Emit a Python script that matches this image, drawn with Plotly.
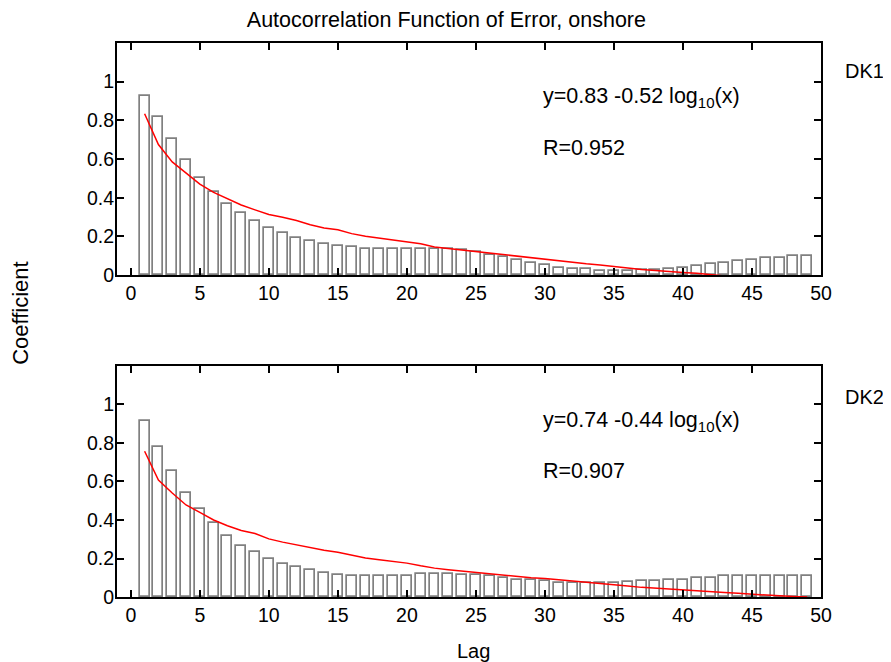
import plotly.graph_objects as go

lags = list(range(1, 50))

dk1_acf = [0.927, 0.815, 0.701, 0.593, 0.503, 0.427, 0.369, 0.320, 0.279, 0.244,
           0.219, 0.193, 0.178, 0.162, 0.152, 0.144, 0.135, 0.135, 0.135, 0.135,
           0.137, 0.137, 0.133, 0.128, 0.120, 0.103, 0.094, 0.077, 0.060, 0.051,
           0.038, 0.029, 0.029, 0.021, 0.021, 0.021, 0.026, 0.026, 0.029, 0.038,
           0.046, 0.055, 0.060, 0.072, 0.080, 0.089, 0.089, 0.097, 0.097]

dk2_acf = [0.915, 0.781, 0.656, 0.540, 0.458, 0.383, 0.315, 0.267, 0.232, 0.200,
           0.174, 0.157, 0.140, 0.125, 0.116, 0.108, 0.108, 0.108, 0.108, 0.108,
           0.118, 0.118, 0.118, 0.116, 0.116, 0.108, 0.099, 0.091, 0.091, 0.082,
           0.074, 0.074, 0.074, 0.074, 0.074, 0.077, 0.082, 0.082, 0.091, 0.091,
           0.099, 0.099, 0.108, 0.108, 0.108, 0.108, 0.108, 0.108, 0.108]

dk1_fit_lags = list(range(1, 44))
dk1_fit = [0.834, 0.675, 0.585, 0.525, 0.470, 0.427, 0.393, 0.362, 0.337, 0.313,
           0.299, 0.282, 0.260, 0.243, 0.234, 0.214, 0.200, 0.191, 0.179, 0.171,
           0.162, 0.145, 0.137, 0.130, 0.120, 0.113, 0.106, 0.099, 0.091, 0.082,
           0.074, 0.065, 0.058, 0.052, 0.043, 0.036, 0.029, 0.023, 0.018, 0.013,
           0.009, 0.002, -0.005]

dk2_fit_lags = list(range(1, 50))
dk2_fit = [0.757, 0.607, 0.540, 0.478, 0.440, 0.400, 0.370, 0.345, 0.330, 0.302,
           0.285, 0.270, 0.255, 0.243, 0.232, 0.218, 0.203, 0.194, 0.186, 0.176,
           0.162, 0.150, 0.142, 0.135, 0.127, 0.120, 0.114, 0.107, 0.100, 0.096,
           0.090, 0.082, 0.077, 0.070, 0.063, 0.057, 0.050, 0.045, 0.040, 0.036,
           0.031, 0.027, 0.023, 0.019, 0.014, 0.010, 0.006, 0.003, 0.000]

title_text = "Autocorrelation Function of Error, onshore"
panel_names = ["DK1", "DK2"]
eq_texts = ["y=0.83 -0.52 log<sub>10</sub>(x)", "y=0.74 -0.44 log<sub>10</sub>(x)"]
r_texts = ["R=0.952", "R=0.907"]
y_tickvals = [0, 0.2, 0.4, 0.6, 0.8, 1]
y_ticktext = ["0", "0.2", "0.4", "0.6", "0.8", "1"]
x_tickvals = [0, 5, 10, 15, 20, 25, 30, 35, 40, 45, 50]

FONT = "Liberation Sans, Arial, sans-serif"
FS_TICK = 19.5
FS_TEXT = 21.5

fig = go.Figure()

for i, (acf, fl, fv) in enumerate([(dk1_acf, dk1_fit_lags, dk1_fit),
                                    (dk2_acf, dk2_fit_lags, dk2_fit)]):
    xa = "x" if i == 0 else "x2"
    ya = "y" if i == 0 else "y2"
    fig.add_trace(go.Bar(x=lags, y=acf, width=0.72, xaxis=xa, yaxis=ya,
                         marker=dict(color="white",
                                     line=dict(color="rgb(128,128,128)", width=1.7)),
                         showlegend=False))
    fig.add_trace(go.Scatter(x=fl, y=fv, mode="lines", xaxis=xa, yaxis=ya,
                             line=dict(color="red", width=1.5), showlegend=False))

axis_common = dict(showline=True, linecolor="black", linewidth=2, mirror="ticks",
                   ticks="inside", ticklen=7, tickwidth=1.5, tickcolor="black",
                   showgrid=False, zeroline=False,
                   tickfont=dict(family=FONT, size=FS_TICK, color="black"))

fig.update_layout(
    width=883, height=654,
    margin=dict(l=109, r=70, t=35, b=65),
    paper_bgcolor="white", plot_bgcolor="white",
    bargap=0,
    title=dict(text=title_text, x=0.4965, xref="container", xanchor="center",
               y=1 - 11 / 654, yref="container", yanchor="middle",
               font=dict(family=FONT, size=21.5, color="black")),
    xaxis=dict(domain=[0, 1], range=[-1, 50], tickvals=x_tickvals, anchor="y", **axis_common),
    yaxis=dict(domain=[0.5812, 1], range=[0, 1.2], tickvals=y_tickvals, ticktext=y_ticktext,
               anchor="x", ticklabelstandoff=-3, **axis_common),
    xaxis2=dict(domain=[0, 1], range=[-1, 50], tickvals=x_tickvals, anchor="y2", **axis_common),
    yaxis2=dict(domain=[0, 0.417], range=[0, 1.2], tickvals=y_tickvals, ticktext=y_ticktext,
                anchor="x2", ticklabelstandoff=-3, **axis_common),
)

annos = []
for i in range(2):
    ya = "y" if i == 0 else "y2"
    xa = "x" if i == 0 else "x2"
    annos.append(dict(text=panel_names[i], xref="paper", yref=ya, x=1.031,
                      y=1.057 if i == 0 else 1.041, xanchor="left", yanchor="middle",
                      showarrow=False, font=dict(family=FONT, size=20, color="black")))
    annos.append(dict(text=eq_texts[i], xref=xa, yref=ya, x=29.7,
                      y=0.92 if i == 0 else 0.912, xanchor="left", yanchor="middle",
                      showarrow=False, font=dict(family=FONT, size=FS_TEXT, color="black")))
    annos.append(dict(text=r_texts[i], xref=xa, yref=ya, x=29.7, y=0.655,
                      xanchor="left", yanchor="middle",
                      showarrow=False, font=dict(family=FONT, size=FS_TEXT, color="black")))
annos.append(dict(text="Coefficient", xref="paper", yref="paper", x=-0.138, y=0.5126,
                  xanchor="center", yanchor="middle", textangle=-90, showarrow=False,
                  font=dict(family=FONT, size=22, color="black")))
annos.append(dict(text="Lag", xref="paper", yref="paper", x=0.5057, y=-0.0975,
                  xanchor="center", yanchor="middle", showarrow=False,
                  font=dict(family=FONT, size=20, color="black")))
fig.update_layout(annotations=annos)

fig.write_html("out.html")
